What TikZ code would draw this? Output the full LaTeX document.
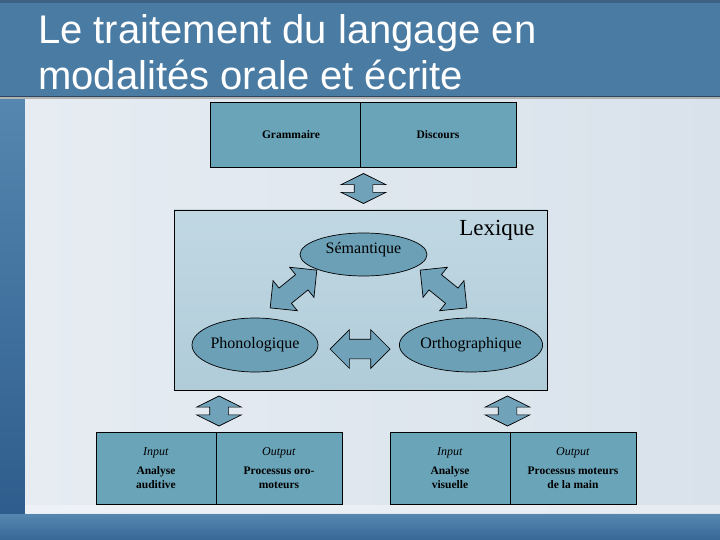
\documentclass[tikz,border=0pt]{standalone}
\usepackage{fontspec}
\setmainfont{Liberation Serif}
\newfontfamily\titlefont{Liberation Sans}
\usetikzlibrary{shapes.geometric,shapes.arrows}
\definecolor{titlebar}{HTML}{4A7BA3}
\definecolor{titleline}{HTML}{2E4760}
\definecolor{stripdark}{HTML}{2C5A8A}
\definecolor{striplight}{HTML}{5587B0}
\definecolor{panelA}{HTML}{E6ECF2}
\definecolor{panelB}{HTML}{D9E2EB}
\definecolor{boxfill}{HTML}{6AA4B8}
\definecolor{ellfill}{HTML}{6BA0B6}
\definecolor{arrfill}{HTML}{70A2BA}
\definecolor{lexA}{HTML}{C1D8E3}
\definecolor{lexB}{HTML}{B0CCD9}
\begin{document}
\begin{tikzpicture}[x=1pt,y=-1pt,
  cell/.style={draw=black, line width=0.9pt, fill=boxfill, inner sep=0pt, align=center},
  bottomcell/.style={cell, minimum height=72pt, font=\fontsize{11.5}{13.5}\selectfont},
  topcell/.style={cell, minimum height=65pt, font=\bfseries\fontsize{11.5}{13.5}\selectfont},
  ell/.style={draw=black, line width=0.7pt, fill=ellfill, shape=ellipse, inner sep=0pt, font=\fontsize{16}{18}\selectfont},
  dblarrow/.style={draw=black, line width=0.7pt, fill=arrfill, shape=double arrow, inner xsep=0pt, inner ysep=9.5pt,
     minimum height=60pt, double arrow head extend=9.5pt, double arrow tip angle=90},
  vertarrow/.style={draw=black, line width=0.7pt, fill=arrfill, shape=double arrow, inner xsep=0pt, inner ysep=9pt,
     minimum height=30pt, double arrow head extend=13pt, double arrow tip angle=127, rotate=90},
  titletext/.style={text=white, font=\titlefont\fontsize{40}{46}\selectfont, inner sep=0pt, anchor=base west}
]
\useasboundingbox (0,0) rectangle (720,540);
% background
\fill[stripdark] (0,0) rectangle (720,540);
\shade[top color=striplight, bottom color=stripdark] (0,96) rectangle (25,540);
\shade[top color=striplight, bottom color=stripdark!70!striplight] (0,514) rectangle (720,540);
\shade[left color=panelA, right color=panelB] (25,99) rectangle (720,513);
\fill[white, opacity=0.35] (25,505) rectangle (720,513);
\fill[titlebar] (0,0) rectangle (720,96);
\fill[titlebar!80!black] (0,0) rectangle (720,3);
\fill[titleline] (0,96) rectangle (720,97.5);
\fill[gray!60] (0,97.5) rectangle (720,99);
% title
\node[titletext] (title1) at (38,43.5) {Le traitement du langage en};
\node[titletext] (title2) at (38,89.5) {modalités orale et écrite};
% top boxes
\node[topcell, minimum width=150pt] (gram) at (285,134.5) {\hspace*{12pt}Grammaire};
\node[topcell, minimum width=156pt] (disc) at (438,134.5) {Discours};
% top arrow
\node[vertarrow] (arrtop) at (363.5,188.5) {};
% lexique box
\node[draw=black, line width=0.9pt, top color=lexA, bottom color=lexB, minimum width=373pt, minimum height=180pt, inner sep=0pt] (lex) at (360.5,300) {};
\node[font=\fontsize{23}{26}\selectfont, inner sep=0pt] (lexlab) at (497,230) {Lexique};
% ellipses
\node[ell, minimum width=127pt, minimum height=43pt, label={[font=\fontsize{16}{18}\selectfont, yshift=5pt]center:Sémantique}] (sem) at (363.5,254.5) {};
\node[ell, minimum width=126pt, minimum height=54pt] (phon) at (255,345) {Phonologique};
\node[ell, minimum width=126pt, minimum height=54pt] (orth) at (471,345) {Orthographique};
% inner arrows
\node[dblarrow, rotate=39] (arrsp) at (293.5,289) {};
\node[dblarrow, rotate=-39] (arrso) at (443.5,289) {};
\node[dblarrow] (arrpo) at (360,349) {};
% bottom arrows
\node[vertarrow] (arrbl) at (219,411) {};
\node[vertarrow] (arrbr) at (507.5,411) {};
% bottom boxes
\node[bottomcell, minimum width=120pt] (inl) at (156,468) {\textit{\fontsize{12}{14}\selectfont Input}\\[6pt]\textbf{Analyse}\\\textbf{auditive}\hspace*{0pt}};
\node[bottomcell, minimum width=126pt] (outl) at (279,468) {\textit{\fontsize{12}{14}\selectfont Output}\\[6pt]\textbf{Processus oro-}\\\textbf{moteurs}};
\node[bottomcell, minimum width=120pt] (inr) at (450,468) {\textit{\fontsize{12}{14}\selectfont Input}\\[6pt]\textbf{Analyse}\\\textbf{visuelle}};
\node[bottomcell, minimum width=126pt] (outr) at (573,468) {\textit{\fontsize{12}{14}\selectfont Output}\\[6pt]\textbf{Processus moteurs}\\\textbf{de la main}};
\end{tikzpicture}
\end{document}
